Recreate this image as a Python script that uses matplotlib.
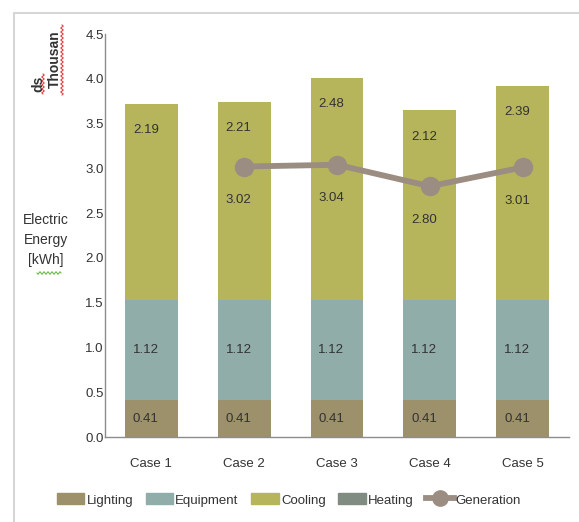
import numpy as np
import matplotlib
matplotlib.use("Agg")
import matplotlib.pyplot as plt
from matplotlib.patches import Rectangle, Patch
from matplotlib.lines import Line2D

plt.rcParams['font.family'] = ['Liberation Sans Narrow', 'Liberation Sans', 'DejaVu Sans']

# energy per case, in thousands of kWh
cases = ["Case 1", "Case 2", "Case 3", "Case 4", "Case 5"]
lighting = [0.41, 0.41, 0.41, 0.41, 0.41]
equipment = [1.12, 1.12, 1.12, 1.12, 1.12]
cooling = [2.19, 2.21, 2.48, 2.12, 2.39]
heating = [0.0, 0.0, 0.0, 0.0, 0.0]
generation = [np.nan, 3.02, 3.04, 2.80, 3.01]

c_light = "#9d916c"
c_equip = "#90adaa"
c_cool = "#b6b55c"
c_heat = "#808b82"
c_gen = "#9b8d82"
txt = "#333333"
fs = 9.5

fig = plt.figure(figsize=(5.79, 5.22), dpi=100)
ax = fig.add_axes([105 / 579, 85 / 522, 464 / 579, 403 / 522])

# outer chart frame
fig.patches.append(Rectangle((14 / 579, -0.2), 1.2, 1.2 - 13 / 522,
                             transform=fig.transFigure, fill=False,
                             edgecolor="#d6d6d6", linewidth=1.5))

x = np.arange(len(cases))
w = 0.57
b1 = np.array(lighting)
b2 = b1 + np.array(equipment)
b3 = b2 + np.array(cooling)
ax.bar(x, lighting, w, color=c_light, label="Lighting")
ax.bar(x, equipment, w, bottom=b1, color=c_equip, label="Equipment")
ax.bar(x, cooling, w, bottom=b2, color=c_cool, label="Cooling")
ax.bar(x, heating, w, bottom=b3, color=c_heat, label="Heating")
ax.plot(x, generation, color=c_gen, lw=4.2, marker="o", ms=13, label="Generation")

dx = -4  # labels sit a little left of bar centre
for i in range(len(cases)):
    ax.annotate(f"{lighting[i]:.2f}", (x[i], lighting[i] / 2), xytext=(dx, 0),
                textcoords="offset points", ha="center", va="center", fontsize=fs, color=txt)
    ax.annotate(f"{equipment[i]:.2f}", (x[i], b1[i] + equipment[i] / 2), xytext=(dx, 0),
                textcoords="offset points", ha="center", va="center", fontsize=fs, color=txt)
    ax.annotate(f"{cooling[i]:.2f}", (x[i], b3[i]), xytext=(dx, -19),
                textcoords="offset points", ha="center", va="center", fontsize=fs, color=txt)
    if not np.isnan(generation[i]):
        ax.annotate(f"{generation[i]:.2f}", (x[i], generation[i]), xytext=(dx, -24),
                    textcoords="offset points", ha="center", va="center", fontsize=fs, color=txt)

ax.set_xlim(-0.5, len(cases) - 0.5)
ax.set_ylim(0, 4.5)
ax.set_yticks(np.arange(0, 4.51, 0.5))
ax.set_yticklabels([f"{v:.1f}" for v in np.arange(0, 4.51, 0.5)])
ax.set_xticks(x)
ax.set_xticklabels(cases)
ax.tick_params(axis="y", length=0, pad=1, labelsize=fs, labelcolor=txt)
ax.tick_params(axis="x", length=0, pad=15, labelsize=fs, labelcolor=txt)
for s in ("top", "right"):
    ax.spines[s].set_visible(False)
for s in ("left", "bottom"):
    ax.spines[s].set_color("#8c8c8c")
    ax.spines[s].set_linewidth(1.0)

# axis title
fig.text(46 / 579, 1 - 240 / 522, "Electric\nEnergy\n[kWh]", ha="center", va="center",
         fontsize=10, color=txt, linespacing=1.55)
fig.text(55 / 579, 1 - 59 / 522, "Thousan", rotation=90, ha="center", va="center",
         fontsize=10, fontweight="bold", color=txt)
fig.text(38 / 579, 1 - 84 / 522, "ds", rotation=90, ha="center", va="center",
         fontsize=10, fontweight="bold", color=txt)


def squiggle(x0, y0, x1, y1, color):
    # wavy proofing underline, pixel coords from top-left
    n = int(max(abs(x1 - x0), abs(y1 - y0)) * 2) + 2
    t = np.linspace(0, 1, n)
    px = x0 + (x1 - x0) * t
    py = y0 + (y1 - y0) * t
    wob = 1.2 * np.sin(t * max(abs(x1 - x0), abs(y1 - y0)) * np.pi / 2)
    if abs(x1 - x0) > abs(y1 - y0):
        py = py + wob
    else:
        px = px + wob
    fig.add_artist(Line2D(px / 579, 1 - py / 522, transform=fig.transFigure,
                          color=color, lw=0.7))


squiggle(62, 25, 62, 95, "#e03030")
squiggle(43, 74, 43, 94, "#e03030")
squiggle(37, 273, 61, 273, "#60b040")

handles = [Patch(color=c_light), Patch(color=c_equip), Patch(color=c_cool), Patch(color=c_heat),
           Line2D([], [], color=c_gen, lw=4.2, marker="o", ms=11)]
labels = ["Lighting", "Equipment", "Cooling", "Heating", "Generation"]
fig.legend(handles, labels, loc="center", bbox_to_anchor=(289 / 579, 1 - 500 / 522), ncol=5,
           frameon=False, fontsize=fs, handlelength=2.1, handleheight=0.9,
           handletextpad=0.15, columnspacing=0.95, labelcolor=txt)

fig.savefig("out.png", dpi=100)
